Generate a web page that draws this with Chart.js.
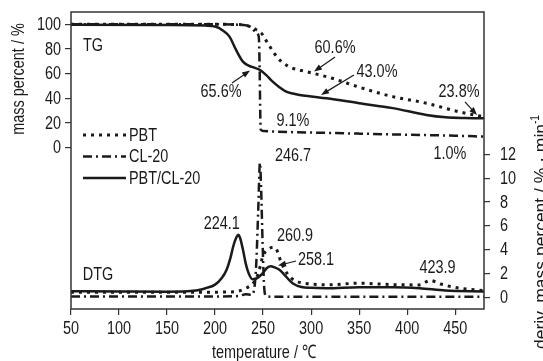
<!DOCTYPE html>
<html>
<head>
<meta charset="utf-8">
<script src="https://cdn.jsdelivr.net/npm/chart.js@4.4.0/dist/chart.umd.min.js"></script>
<style>
  html, body { margin: 0; padding: 0; background: #fff; }
  #wrap { width: 543px; height: 361px; position: relative; }
</style>
</head>
<body>
<div id="wrap"><canvas id="chart" width="543" height="361"></canvas></div>
<script>
// TG curves, mass percent (left axis)
const tgPbtT = [50, 200, 225, 235, 242, 248, 253, 257, 262, 268, 275, 281, 290, 302, 322, 350, 385, 420, 454, 480];
const tgPbtV = [100, 100, 99.8, 98.5, 96, 93, 87, 82, 76, 70.5, 66.5, 64.3, 62.5, 60.3, 56.2, 49, 41.3, 36, 29, 25];

const tgClT = [50, 200, 230, 238, 243, 245.5, 246.5, 247, 247.5, 250, 260, 300, 350, 400, 450, 480];
const tgClV = [100, 100, 99.4, 97.5, 93, 90, 60, 30, 14.5, 13.5, 13, 12.2, 11.3, 10.4, 9.6, 8.9];

const tgMixT = [50, 150, 190, 201, 208, 215, 222, 229, 235, 240, 246.5, 253, 260, 267, 274, 281, 288, 300, 316, 350, 385, 420, 440, 460, 480];
const tgMixV = [99.6, 99.5, 99, 98, 95, 90, 79, 69.7, 66.5, 65, 63, 59, 53.5, 49, 45.4, 43.8, 42.7, 41.5, 40, 36, 32, 26.5, 24.6, 24, 23.8];

// DTG curves, deriv. mass percent (right axis)
const dtgPbtT = [50, 150, 200, 220, 232, 240, 245, 250, 255, 260.9, 264, 269, 275, 281, 290, 300, 316, 350, 385, 413, 423.9, 435, 445, 455, 480];
const dtgPbtV = [0.42, 0.42, 0.42, 0.45, 0.75, 1.2, 2.0, 3.5, 4.0, 4.2, 4.0, 2.9, 2.0, 1.5, 1.2, 1.1, 1.03, 1.17, 1.05, 1.03, 1.4, 1.1, 0.9, 0.75, 0.55];

const dtgClT = [50, 200, 225, 232, 238, 241, 243, 245, 246.7, 248, 249.5, 251, 253, 260, 300, 480];
const dtgClV = [0.05, 0.05, 0.1, 0.25, 0.2, 0.8, 3, 7.5, 11.3, 9, 4.5, 1.0, 0.1, 0.03, 0.03, 0.03];

const dtgMixT = [50, 100, 150, 180, 190, 200, 207, 212, 216, 219, 222, 224.1, 226, 229, 232, 235, 239, 243, 247, 250, 254, 258.1, 262, 267, 272, 277, 281, 290, 300, 316, 350, 385, 413, 440, 480];
const dtgMixV = [0.5, 0.47, 0.45, 0.55, 0.75, 1.05, 1.6, 2.3, 3.3, 4.3, 5.0, 5.25, 5.0, 4.0, 2.8, 2.0, 1.5, 1.55, 1.8, 2.05, 2.45, 2.6, 2.5, 2.3, 1.9, 1.45, 1.15, 0.85, 0.78, 0.75, 0.84, 0.84, 0.75, 0.55, 0.47];

// ticks
const xTicks = [50, 100, 150, 200, 250, 300, 350, 400, 450];
const yTicks = [0, 20, 40, 60, 80, 100];
const y2Ticks = [0, 2, 4, 6, 8, 10, 12];

// text labels: [text, temperature, value, axis]
const labels = [
  ["TG", 72.9, 82.8, "y"],
  ["DTG", 78.1, 1.86, "y2"],
  ["65.6%", 206.2, 45.1, "y"],
  ["60.6%", 324.9, 80.8, "y"],
  ["43.0%", 368.6, 61.6, "y"],
  ["23.8%", 454, 45.3, "y"],
  ["9.1%", 281.1, 21.6, "y"],
  ["1.0%", 444.6, -4.8, "y"],
  ["246.7", 281.1, 11.9, "y2"],
  ["224.1", 206.9, 6.2, "y2"],
  ["260.9", 283.2, 5.19, "y2"],
  ["258.1", 305.1, 3.12, "y2"],
  ["423.9", 431.6, 2.49, "y2"]
];
// arrows: [fromT, fromV, toT, toV, axis]
const arrows = [
  [217.6, 52.4, 236.4, 62.5, "y"],
  [324.9, 73.5, 303, 61.7, "y"],
  [344.6, 58.9, 310.3, 42.7, "y"],
  [460.2, 37, 472.7, 26.4, "y"],
  [284.3, 3.04, 265.5, 2.66, "y2"]
];

const FAMILY = '"Liberation Sans", Arial, sans-serif';
const SIZE = 18.5;
const SQUEEZE = 0.78; // narrow type like the original
const INK = "#1a1a1a";
const DOT = [3, 5];
const DASHDOT = [9, 4, 2, 4];

function pts(xs, ys) {
  return xs.map((x, i) => ({ x, y: ys[i] }));
}

function line(label, xs, ys, axis, dash, width) {
  return {
    label,
    data: pts(xs, ys),
    yAxisID: axis,
    borderColor: INK,
    borderWidth: width,
    borderDash: dash,
    pointRadius: 0,
    cubicInterpolationMode: "monotone",
    fill: false
  };
}

// condensed text: squeeze along the writing direction
function text(ctx, str, x, y, align, baseline, opts = {}) {
  ctx.save();
  ctx.translate(x, y);
  if (opts.rotate) ctx.rotate(opts.rotate);
  ctx.scale(opts.squeeze || SQUEEZE, 1);
  ctx.font = (opts.size || SIZE) + "px " + FAMILY;
  ctx.textAlign = align;
  ctx.textBaseline = baseline;
  ctx.fillText(str, 0, 0);
  ctx.restore();
}

function drawArrow(ctx, x1, y1, x2, y2) {
  const a = Math.atan2(y2 - y1, x2 - x1);
  const len = 8, half = 3;
  ctx.beginPath();
  ctx.moveTo(x1, y1);
  ctx.lineTo(x2 - Math.cos(a) * len * 0.8, y2 - Math.sin(a) * len * 0.8);
  ctx.stroke();
  ctx.beginPath();
  ctx.moveTo(x2, y2);
  ctx.lineTo(x2 - Math.cos(a) * len + Math.sin(a) * half, y2 - Math.sin(a) * len - Math.cos(a) * half);
  ctx.lineTo(x2 - Math.cos(a) * len - Math.sin(a) * half, y2 - Math.sin(a) * len + Math.cos(a) * half);
  ctx.closePath();
  ctx.fill();
}

const decor = {
  id: "decor",
  afterDatasetsDraw(chart) {
    const { ctx, chartArea: ca, scales } = chart;
    ctx.save();
    // frame
    ctx.strokeStyle = "#333";
    ctx.lineWidth = 1.5;
    ctx.setLineDash([]);
    ctx.strokeRect(ca.left, ca.top, ca.right - ca.left, ca.bottom - ca.top);

    ctx.fillStyle = INK;
    ctx.strokeStyle = INK;

    // tick labels
    xTicks.forEach((v) => text(ctx, String(v), scales.x.getPixelForValue(v), 329, "center", "middle"));
    yTicks.forEach((v) => text(ctx, String(v), 61, scales.y.getPixelForValue(v) + 0.5, "right", "middle"));
    y2Ticks.forEach((v) => text(ctx, String(v), 500, scales.y2.getPixelForValue(v) + 0.5, "left", "middle"));

    labels.forEach(([t, x, v, ax]) => {
      text(ctx, t, scales.x.getPixelForValue(x), scales[ax].getPixelForValue(v), "center", "middle");
    });

    ctx.lineWidth = 1.2;
    arrows.forEach(([t1, v1, t2, v2, ax]) => {
      drawArrow(ctx,
        scales.x.getPixelForValue(t1), scales[ax].getPixelForValue(v1),
        scales.x.getPixelForValue(t2), scales[ax].getPixelForValue(v2));
    });

    // legend
    const items = [["PBT", DOT, 3], ["CL-20", DASHDOT, 2.5], ["PBT/CL-20", [], 2.5]];
    const lx = ca.left + 12, ly = ca.top + 123;
    items.forEach(([name, dash, w], i) => {
      const y = ly + i * 21.5;
      ctx.setLineDash(dash);
      ctx.lineWidth = w;
      ctx.beginPath();
      ctx.moveTo(lx, y);
      ctx.lineTo(lx + 43, y);
      ctx.stroke();
      ctx.setLineDash([]);
      text(ctx, name, lx + 46, y + 0.5, "left", "middle");
    });

    // axis titles
    text(ctx, "temperature / \u2103", 264, 353, "center", "middle");
    text(ctx, "mass percent / %", 24, 79, "center", "alphabetic", { rotate: -Math.PI / 2 });

    // right title, fitted to the span it covers in the original
    ctx.save();
    ctx.font = SIZE + "px " + FAMILY;
    const main = "deriv. mass percent / % \u00b7 min";
    const mainW = ctx.measureText(main).width;
    ctx.restore();
    const sq = 225 / mainW;
    const top = 115;
    text(ctx, "-1", 539, top, "right", "alphabetic", { rotate: -Math.PI / 2, size: 12, squeeze: 0.85 });
    text(ctx, main, 547, top + 9, "right", "alphabetic", { rotate: -Math.PI / 2, squeeze: sq });

    ctx.restore();
  }
};

function fixTicks(values) {
  return (scale) => { scale.ticks = values.map((v) => ({ value: v })); };
}

function fixSize(prop, size) {
  return (s) => {
    s[prop] = size;
    s.paddingTop = 0;
    s.paddingBottom = 0;
    s.paddingLeft = 0;
    s.paddingRight = 0;
  };
}

const grid = { drawOnChartArea: false, tickLength: 6, color: "#333", lineWidth: 1.2 };

new Chart(document.getElementById("chart"), {
  type: "line",
  data: {
    datasets: [
      line("PBT", tgPbtT, tgPbtV, "y", DOT, 3),
      line("CL-20", tgClT, tgClV, "y", DASHDOT, 2.5),
      line("PBT/CL-20", tgMixT, tgMixV, "y", [], 2.5),
      line("PBT dtg", dtgPbtT, dtgPbtV, "y2", DOT, 3),
      line("CL-20 dtg", dtgClT, dtgClV, "y2", DASHDOT, 2.5),
      line("PBT/CL-20 dtg", dtgMixT, dtgMixV, "y2", [], 2.5)
    ]
  },
  options: {
    responsive: false,
    animation: false,
    layout: { padding: { top: 12, left: 0, right: 0, bottom: 0 } },
    plugins: { legend: { display: false }, tooltip: { enabled: false } },
    scales: {
      x: {
        type: "linear",
        min: 50,
        max: 480,
        afterBuildTicks: fixTicks(xTicks),
        afterFit: fixSize("height", 52),
        border: { display: false },
        grid,
        ticks: { display: false }
      },
      y: {
        position: "left",
        min: -131,
        max: 110,
        afterBuildTicks: fixTicks(yTicks),
        afterFit: fixSize("width", 71),
        border: { display: false },
        grid,
        ticks: { display: false }
      },
      y2: {
        position: "right",
        min: -1,
        max: 24,
        afterBuildTicks: fixTicks(y2Ticks),
        afterFit: fixSize("width", 59),
        border: { display: false },
        grid,
        ticks: { display: false }
      }
    }
  },
  plugins: [decor]
});
</script>
</body>
</html>
